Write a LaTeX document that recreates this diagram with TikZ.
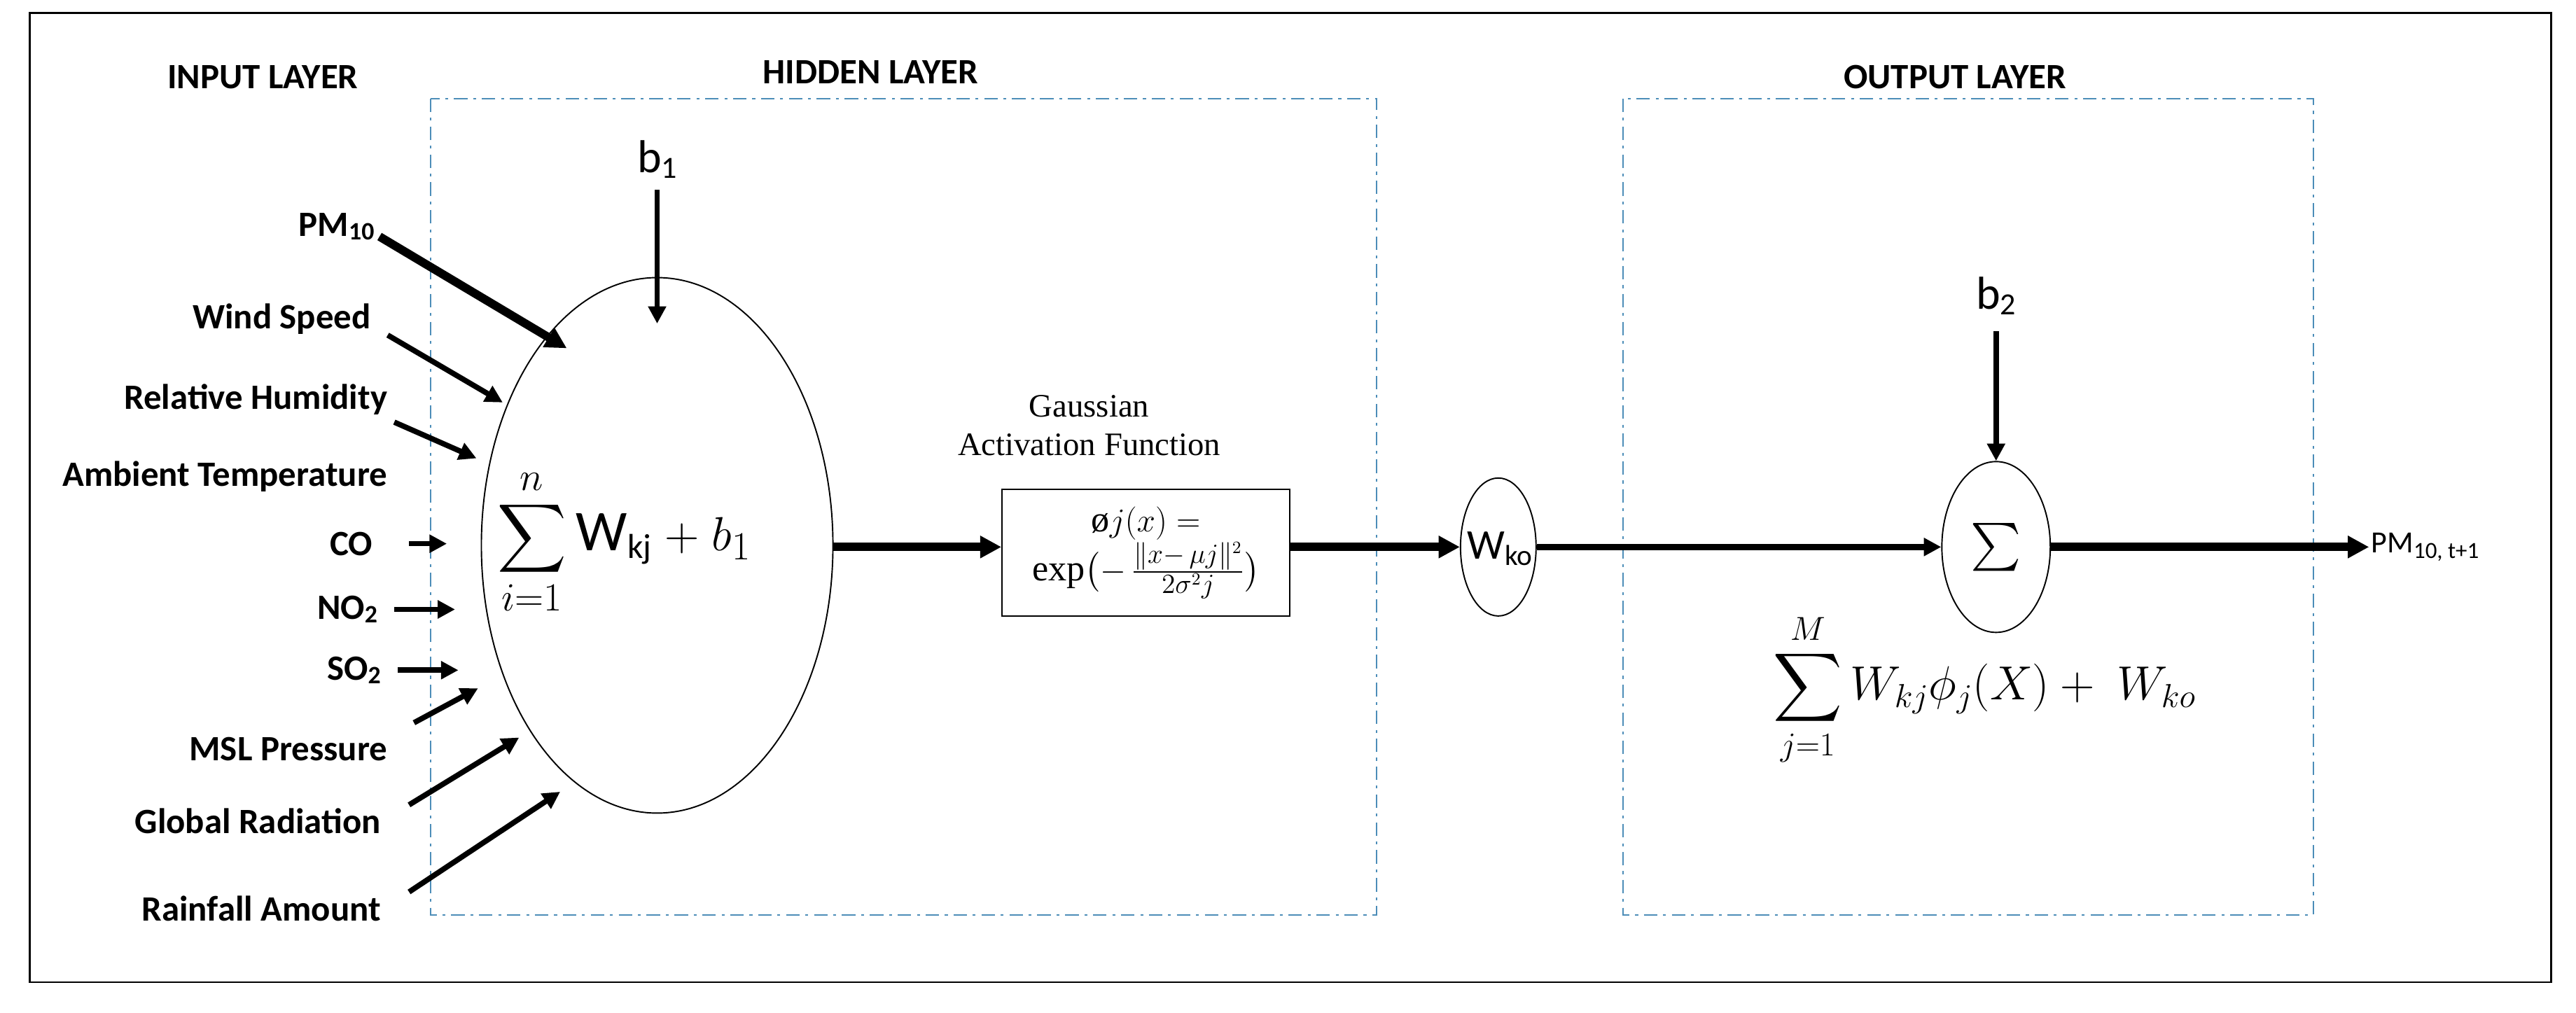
\documentclass[tikz,border=0pt]{standalone}
\usepackage{fontspec}
\setmainfont{Carlito}
\newfontfamily\tnr{Liberation Serif}
\usepackage{amsmath}
\usetikzlibrary{arrows.meta,shapes.geometric}
\begin{document}
\begin{tikzpicture}[x=0.03cm,y=-0.03cm,
  lab/.style={font=\fontsize{18.5}{21}\selectfont\bfseries, anchor=east, inner sep=0},
  hdr/.style={font=\fontsize{18.5}{21}\selectfont\bfseries, inner sep=0},
  arr/.style={line width=2.8pt,-{Triangle[length=9pt,width=9pt]}},
  tarr/.style={line width=4.4pt,-{Triangle[length=11pt,width=11pt]}},
  layer/.style={draw=blue!40!cyan!60!black!70, dash pattern=on 7pt off 3pt on 1.5pt off 3pt, line width=0.7pt},
  neuron/.style={draw, ellipse, line width=0.7pt}]
\useasboundingbox (0,0) rectangle (1568,616.3);
\draw[line width=1pt] (18,8) rectangle (1553,598);
\node[hdr] (ih) at (160,47) {INPUT LAYER};
\node[hdr] (hh) at (530,44) {HIDDEN LAYER};
\node[hdr] (oh) at (1190,47) {OUTPUT LAYER};
\draw[layer] (262,60) rectangle (838,557);
\draw[layer] (988,60) rectangle (1408,557);
% big neuron
\draw[line width=0.7pt] (400,332) ellipse (107 and 163);
\coordinate (ne) at (507,333);
\node (sum1) at (380,330) {\fontsize{30}{34}\selectfont$\displaystyle\sum_{i=1}^{n}$\,W\raisebox{-4pt}{\fontsize{18}{20}\selectfont kj} $+\ b_1$};
\node[font=\fontsize{24}{28}\selectfont] (b1) at (400,97) {b\raisebox{-3pt}{\fontsize{16}{18}\selectfont 1}};
\coordinate (b1e) at (400,197);
\draw[arr] (b1.south) ++(0,3) -- (b1e);
% inputs
\node[lab] (pm) at (228,138) {PM\raisebox{-2pt}{\fontsize{13}{15}\selectfont 10}};
\node[lab] (ws) at (226,194) {Wind Speed};
\node[lab] (rh) at (236,243) {Relative Humidity};
\node[lab] (at) at (236,290) {Ambient Temperature};
\node[lab] (co) at (227,331) {CO};
\node[lab] (no) at (230,371) {NO\raisebox{-2pt}{\fontsize{13}{15}\selectfont 2}};
\node[lab] (so) at (232,408) {SO\raisebox{-2pt}{\fontsize{13}{15}\selectfont 2}};
\node[lab] (msl) at (236,456) {MSL Pressure};
\node[lab] (gr) at (232,500) {Global Radiation};
\node[lab] (rf) at (232,553) {Rainfall Amount};
\coordinate (pmE) at (345,212);
\coordinate (wsE) at (306,245);
\coordinate (rhE) at (290,279);
\coordinate (coE) at (272,331);
\coordinate (noE) at (277,371);
\coordinate (soE) at (279,408);
\coordinate (mslE) at (291,419);
\coordinate (grE) at (316,449);
\coordinate (rfE) at (341,482);
\draw[tarr] (231,144) -- (pmE);
\draw[arr] (236,204) -- (wsE);
\draw[arr] (240,257) -- (rhE);
\draw[arr] (249,331) -- (coE);
\draw[arr] (240,371) -- (noE);
\draw[arr] (242,408) -- (soE);
\draw[arr] (252,440) -- (mslE);
\draw[arr] (249,490) -- (grE);
\draw[arr] (249,543) -- (rfE);
% activation box
\node[draw, line width=0.8pt, minimum width=175*0.03cm, minimum height=77*0.03cm, inner sep=0, align=center] (act) at (697.5,336.5)
 {\fontsize{19}{22}\selectfont $\text{\tnr ø}j(x) =$\\[0pt]\fontsize{19}{22}\selectfont $\text{\tnr exp}\bigl(-\,\frac{\|x-\,\mu j\|^2}{2\sigma^2 j}\bigr)$};
\node[font=\tnr\fontsize{17}{20}\selectfont, align=center] (gt) at (663,259) {Gaussian\\Activation Function};
\draw[tarr] (ne) -- (act.west |- ne);
% Wko
\node[neuron, minimum width=46*0.03cm, minimum height=84*0.03cm, inner sep=0] (wko) at (912,333) {};
\node[font=\fontsize{22}{26}\selectfont] at (913,334) {W\raisebox{-3pt}{\fontsize{15}{18}\selectfont ko}};
\draw[tarr] (act.east |- wko) -- (wko.west);
% Sigma
\node[neuron, minimum width=66*0.03cm, minimum height=104*0.03cm, inner sep=0] (sig) at (1215,333) {\fontsize{32}{36}\selectfont$\sum$};
\draw[line width=3.2pt,-{Triangle[length=9pt,width=9pt]}] (wko.east) -- (sig.west);
\node[font=\fontsize{24}{28}\selectfont] (b2) at (1215,180) {b\raisebox{-3pt}{\fontsize{16}{18}\selectfont 2}};
\draw[arr] (b2.south) ++(0,6) -- (sig.north);
\coordinate (outE) at (1442,333);
\draw[tarr] (sig.east) -- (outE);
\node[anchor=west, inner sep=1pt, font=\fontsize{16}{19}\selectfont] (pmo) at (outE) {PM\raisebox{-3pt}{\fontsize{12}{14}\selectfont 10, t+1}};
\node (f2) at (1208,420) {\fontsize{27}{31}\selectfont $\displaystyle\sum_{j=1}^{M} W_{kj}\phi_j(X) +\ W_{ko}$};
\end{tikzpicture}
\end{document}
